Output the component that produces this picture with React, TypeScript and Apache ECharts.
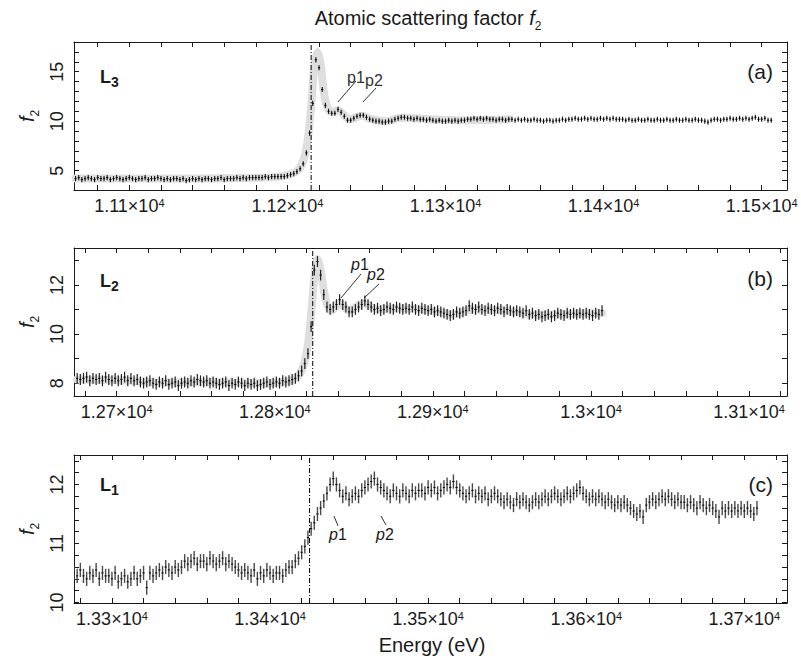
import { useEffect, useRef } from "react";
import * as echarts from "echarts";

const FONT = '"Liberation Sans", Arial, Helvetica, sans-serif';
const INK = "#1a1a1a";
const STEP_EV = 2;

// ---------- (a) L3 edge ----------
const L3_START = 11066;
const L3_VALUES = [
  4.2, 4.3, 4.1, 4.2, 4.3, 4.2, 4.1, 4.3, 4.2, 4.2,
  4.3, 4.1, 4.2, 4.3, 4.2, 4.1, 4.2, 4.3, 4.2, 4.1,
  4.2, 4.2, 4.3, 4.1, 4.2, 4.2, 4.3, 4.2, 4.1, 4.2,
  4.1, 4.2, 4.2, 4.1, 4.2, 4.0, 4.1, 4.2, 4.1, 4.2,
  4.1, 4.2, 4.2, 4.1, 4.2, 4.2, 4.3, 4.1, 4.2, 4.2,
  4.2, 4.3, 4.2, 4.3, 4.2, 4.3, 4.3, 4.3, 4.3, 4.3, 4.4, 4.3, 4.4, 4.4, 4.4,
  4.4, 4.4, 4.5, 4.6, 4.7, 4.9, 5.2, 5.7, 6.8, 8.8, 11.8, 16.2, 15.4, 13.2, 11.6,
  11.0, 10.8, 10.8, 11.2, 10.9, 10.5, 10.1, 10.1, 10.3, 10.5, 10.6, 10.6, 10.4, 10.2,
  10.1, 10.0, 10.0, 9.9, 9.9, 10.0, 10.0, 10.2, 10.3, 10.4,
  10.4, 10.3, 10.3, 10.2, 10.3, 10.2, 10.2, 10.1, 10.2,
  10.1, 10.0, 10.1, 10.0, 10.0, 10.1, 10.0, 10.1, 10.0, 10.1, 10.1,
  10.2, 10.2, 10.3, 10.2, 10.3, 10.2, 10.3, 10.2, 10.2, 10.1, 10.2,
  10.2, 10.1, 10.2, 10.2, 10.1, 10.2, 10.1, 10.2, 10.1, 10.1, 10.2,
  10.1, 10.1, 10.0, 10.1, 10.1, 10.0, 10.1, 10.1, 10.2, 10.1, 10.2,
  10.2, 10.3, 10.2, 10.2, 10.3, 10.2, 10.3, 10.2, 10.2, 10.3, 10.2,
  10.3, 10.2, 10.3, 10.2, 10.2, 10.2, 10.1, 10.2, 10.1, 10.1, 10.2,
  10.1, 10.1, 10.2, 10.1, 10.1, 10.2, 10.1, 10.1, 10.2, 10.1, 10.1,
  10.2, 10.1, 10.1, 10.2, 10.1, 10.1, 10.2, 10.1, 10.1, 10.0, 9.9,
  10.1, 10.2, 10.2, 10.1, 10.2, 10.2, 10.3, 10.2, 10.2, 10.3, 10.2,
  10.3, 10.2, 10.3, 10.4, 10.2, 10.2, 10.3, 10.1, 10.1,
];
const L3_ERROR = 0.26;
const L3_EDGE = 11215;
const L3_BAND_E = [11066, 11120, 11170, 11195, 11203, 11208, 11211, 11213, 11215, 11217, 11219, 11221, 11223, 11225, 11228, 11232, 11237, 11240, 11247, 11253, 11262, 11272, 11290, 11310, 11340];
const L3_BAND_V = [4.2, 4.2, 4.25, 4.4, 4.7, 5.3, 6.5, 8.3, 11.5, 15.5, 17.0, 15.8, 13.0, 11.5, 10.9, 11.1, 10.4, 10.2, 10.55, 10.2, 10.0, 10.35, 10.2, 10.1, 10.2];
const L3_X_LABELS = [11100, 11200, 11300, 11400, 11500];
const L3_Y_LABELS = [5, 10, 15];

// ---------- (b) L2 edge ----------
const L2_START = 12675;
const L2_VALUES = [
  8.2, 8.15, 8.2, 8.25, 8.1, 8.2, 8.15, 8.2, 8.1, 8.25, 8.15,
  8.1, 8.2, 8.1, 8.15, 8.25, 8.1, 8.2, 8.1, 8.15, 8.05,
  8.0, 8.05, 8.1, 8.0, 7.95, 8.05, 8.0, 8.1, 7.95, 8.0, 8.05, 7.9, 8.0, 8.05, 8.0,
  8.1, 8.05, 8.15, 8.1, 8.05, 8.1, 8.0, 8.05, 8.0,
  7.95, 8.0, 8.05, 7.9, 8.0, 7.95, 8.05, 8.0, 7.9, 8.0, 7.95, 8.0, 7.9, 7.95, 8.0, 8.05, 7.95,
  8.0, 8.05, 8.0, 8.1, 8.05, 8.1, 8.15, 8.2,
  8.3, 8.5, 8.8, 9.2, 10.3, 12.6, 12.95, 12.4, 11.6, 11.1,
  11.0, 11.1, 11.2, 11.4, 11.2, 11.1, 10.9, 10.9, 11.0, 11.1,
  11.2, 11.35, 11.2, 11.1, 11.0,
  11.05, 10.95, 11.0, 11.1, 11.05, 11.0, 11.1, 11.05, 11.0,
  11.05, 11.0, 11.1, 11.0, 10.95, 11.05, 11.0,
  10.95, 11.0, 10.9, 10.95, 10.9, 10.85, 10.8,
  10.75, 10.8, 10.9, 10.85, 10.9,
  10.95, 11.15, 11.05, 11.0,
  11.1, 11.0, 10.95, 11.05, 11.0, 10.95, 11.05, 11.0, 10.9, 11.0, 10.95, 10.9,
  10.95, 10.9, 10.85, 10.95, 10.8, 10.85,
  10.75, 10.8, 10.7, 10.75, 10.8, 10.7, 10.75, 10.85, 10.8, 10.75,
  10.85, 10.8, 10.85, 10.8, 10.85, 10.8, 10.85, 10.8, 10.75, 10.85, 10.8, 10.95,
];
const L2_ERROR = 0.22;
const L2_EDGE = 12824;
const L2_BAND_E = [12675, 12700, 12730, 12760, 12790, 12805, 12812, 12816, 12819, 12821, 12823, 12825, 12827, 12829, 12831, 12833, 12836, 12841, 12847, 12856, 12865, 12880, 12900, 12913, 12925, 12945, 12965, 12985, 13007];
const L2_BAND_V = [8.15, 8.12, 8.03, 8.05, 8.0, 8.05, 8.15, 8.4, 8.9, 9.6, 10.8, 12.3, 13.05, 12.6, 11.8, 11.2, 10.95, 11.25, 10.95, 11.25, 11.0, 11.05, 10.95, 10.8, 11.0, 10.97, 10.78, 10.82, 10.85];
const L2_X_LABELS = [12700, 12800, 12900, 13000, 13100];
const L2_Y_LABELS = [8, 10, 12];

// ---------- (c) L1 edge ----------
const L1_START = 13276;
const L1_VALUES = [
  10.5, 10.45, 10.55, 10.45, 10.4, 10.5, 10.45, 10.55, 10.4, 10.5, 10.45,
  10.45, 10.4, 10.5, 10.35, 10.4, 10.45, 10.35, 10.4, 10.5, 10.4, 10.45, 10.5,
  10.25,
  10.5, 10.45, 10.5, 10.55, 10.5, 10.6, 10.55, 10.5, 10.6, 10.55, 10.6,
  10.7, 10.65, 10.7, 10.75, 10.65, 10.7, 10.7, 10.65, 10.75, 10.7, 10.65, 10.7, 10.75, 10.65, 10.7, 10.65,
  10.6, 10.55, 10.5, 10.55, 10.5, 10.45, 10.55,
  10.4, 10.5, 10.45, 10.55, 10.5, 10.45, 10.5, 10.5, 10.45, 10.55,
  10.6, 10.6, 10.7, 10.75,
  10.85, 10.95, 11.1, 11.25, 11.35, 11.5, 11.6, 11.72, 11.85, 12.0, 12.1, 12.0, 11.9,
  11.8, 11.85, 11.75, 11.8, 11.85, 11.8,
  11.9,
  11.95, 12.0, 12.05, 12.1, 12.0, 11.95,
  11.9, 11.85, 11.8, 11.9, 11.85, 11.8, 11.9, 11.85, 11.8, 11.9, 11.85, 11.9,
  11.9, 11.85, 11.95, 11.9, 11.95, 11.85, 11.9, 11.95,
  12.0, 11.95, 12.05, 11.95, 11.9,
  11.85, 11.8, 11.85, 11.9, 11.8, 11.85, 11.8, 11.85, 11.75, 11.8, 11.85, 11.8, 11.75,
  11.7, 11.75, 11.7, 11.65, 11.75, 11.7, 11.75, 11.7, 11.65, 11.7, 11.75, 11.7,
  11.75, 11.8, 11.75, 11.8, 11.85, 11.8, 11.75, 11.8, 11.85, 11.8, 11.85, 11.9, 11.95,
  11.85, 11.8, 11.75, 11.8, 11.75, 11.8, 11.75, 11.7, 11.75, 11.7, 11.65, 11.7, 11.65, 11.7, 11.65, 11.6,
  11.55, 11.5, 11.55, 11.45,
  11.65, 11.7, 11.75, 11.7, 11.75, 11.8, 11.75, 11.8, 11.75, 11.7, 11.75, 11.7, 11.7,
  11.65, 11.7, 11.65, 11.6, 11.7, 11.65, 11.6, 11.65, 11.6, 11.55, 11.45,
  11.6, 11.55, 11.6, 11.55, 11.6, 11.55, 11.6, 11.55, 11.6, 11.55, 11.5, 11.6,
];
const L1_ERROR = 0.12;
const L1_EDGE = 13425;
const L1_X_LABELS = [13300, 13400, 13500, 13600, 13700];
const L1_Y_LABELS = [10, 11, 12];

type Panel = {
  start: number;
  values: number[];
  err: number;
  edge: number;
  bandE: number[];
  bandV: number[];
  xMin: number;
  xMax: number;
  yMin: number;
  yMax: number;
  xLabels: number[];
  yLabels: number[];
  yTickStep: number;
  top: number;
  barColor: string;
  barWidth: number;
};

const PANELS: Panel[] = [
  { start: L3_START, values: L3_VALUES, err: L3_ERROR, edge: L3_EDGE, bandE: L3_BAND_E, bandV: L3_BAND_V,
    xMin: 11065, xMax: 11516, yMin: 3.05, yMax: 18, xLabels: L3_X_LABELS, yLabels: L3_Y_LABELS, yTickStep: 1, top: 42, barColor: "#111", barWidth: 1.1 },
  { start: L2_START, values: L2_VALUES, err: L2_ERROR, edge: L2_EDGE, bandE: L2_BAND_E, bandV: L2_BAND_V,
    xMin: 12673, xMax: 13124, yMin: 7.48, yMax: 13.5, xLabels: L2_X_LABELS, yLabels: L2_Y_LABELS, yTickStep: 1, top: 248, barColor: "#222", barWidth: 1.2 },
  { start: L1_START, values: L1_VALUES, err: L1_ERROR, edge: L1_EDGE, bandE: [], bandV: [],
    xMin: 13276, xMax: 13727, yMin: 9.99, yMax: 12.5, xLabels: L1_X_LABELS, yLabels: L1_Y_LABELS, yTickStep: 0.2, top: 455, barColor: "#4a4a4a", barWidth: 1.4 },
];

const GRID_LEFT = 74;
const GRID_RIGHT = 14;
const GRID_HEIGHT = 148;

function range(a: number, b: number, s: number): number[] {
  const out: number[] = [];
  const start = Math.ceil(a / s - 1e-9) * s;
  for (let v = start; v <= b + 1e-9; v += s) out.push(Math.round(v * 1000) / 1000);
  return out;
}

function xFmt(v: number): string {
  const m = parseFloat((v / 1e4).toFixed(4)).toString();
  return `{m|${m}×10}{s|4}`;
}

function buildOption() {
  const grid: any[] = [];
  const xAxis: any[] = [];
  const yAxis: any[] = [];
  const series: any[] = [];
  const axisLine = { show: true, onZero: false, lineStyle: { color: INK, width: 1 } };
  const tickStyle = { color: INK, width: 1 };

  PANELS.forEach((p, g) => {
    grid.push({ left: GRID_LEFT, right: GRID_RIGHT, top: p.top, height: GRID_HEIGHT, outerBoundsMode: "none", containLabel: false });
    const xTicks = range(p.xMin, p.xMax, 20);
    const yTicks = range(p.yMin, p.yMax, p.yTickStep);
    xAxis.push({
      type: "value", gridIndex: g, position: "bottom", min: p.xMin, max: p.xMax,
      axisLine, splitLine: { show: false },
      axisTick: { show: true, inside: true, length: 5, customValues: xTicks, lineStyle: tickStyle },
      axisLabel: {
        show: true, customValues: p.xLabels, margin: 7, formatter: xFmt,
        rich: {
          m: { fontSize: 18, fontFamily: FONT, color: INK },
          s: { fontSize: 11, fontFamily: FONT, color: INK, verticalAlign: "top" },
        },
      },
    });
    xAxis.push({
      type: "value", gridIndex: g, position: "top", min: p.xMin, max: p.xMax,
      axisLine, splitLine: { show: false },
      axisTick: { show: true, inside: true, length: 5, customValues: xTicks, lineStyle: tickStyle },
      axisLabel: { show: false },
    });
    yAxis.push({
      type: "value", gridIndex: g, position: "left", min: p.yMin, max: p.yMax,
      axisLine, splitLine: { show: false },
      axisTick: { show: true, inside: true, length: 5, customValues: yTicks, lineStyle: tickStyle },
      axisLabel: {
        show: true, customValues: p.yLabels, rotate: 90, margin: 8,
        fontSize: 18, fontFamily: FONT, color: INK, formatter: (v: number) => String(v),
      },
    });
    yAxis.push({
      type: "value", gridIndex: g, position: "right", min: p.yMin, max: p.yMax,
      axisLine, splitLine: { show: false },
      axisTick: { show: true, inside: true, length: 5, customValues: yTicks, lineStyle: tickStyle },
      axisLabel: { show: false },
    });

    if (p.bandE.length) {
      series.push({
        type: "line", xAxisIndex: 2 * g, yAxisIndex: 2 * g, silent: true,
        data: p.bandE.map((e, i) => [e, p.bandV[i]]),
        symbol: "none", showSymbol: false, smooth: 0.3,
        lineStyle: { color: "#dedede", width: 8, cap: "round", join: "round" },
        z: 1,
      });
    }
    series.push({
      type: "line", xAxisIndex: 2 * g, yAxisIndex: 2 * g, silent: true,
      data: [[p.edge, p.yMin], [p.edge, p.yMax]],
      symbol: "none", showSymbol: false,
      lineStyle: { color: "#000", width: 1, type: [5, 2, 1, 2] },
      z: 2,
    });
    const barColor = p.barColor;
    const barWidth = p.barWidth;
    series.push({
      type: "custom", xAxisIndex: 2 * g, yAxisIndex: 2 * g, silent: true, clip: true,
      data: p.values.map((v, i) => [p.start + i * STEP_EV, v, p.err]),
      encode: { x: 0, y: 1 },
      renderItem: (_params: any, api: any) => {
        const x = api.value(0);
        const y = api.value(1);
        const e = api.value(2);
        const top = api.coord([x, y + e]);
        const bot = api.coord([x, y - e]);
        const mid = api.coord([x, y]);
        return {
          type: "group",
          children: [
            { type: "line", shape: { x1: top[0], y1: top[1], x2: bot[0], y2: bot[1] }, style: { stroke: barColor, lineWidth: barWidth } },
            { type: "line", shape: { x1: mid[0] - 1.1, y1: mid[1], x2: mid[0] + 1.1, y2: mid[1] }, style: { stroke: "#000", lineWidth: 1 } },
          ],
        };
      },
      z: 3,
    });
  });

  const text = (x: number, y: number, t: string, o: any = {}) => ({
    type: "text", x, y, silent: true, rotation: o.rotation || 0,
    style: {
      text: t, fill: o.fill || INK, fontSize: o.fontSize || 18, fontFamily: FONT,
      fontWeight: o.fontWeight || "normal", fontStyle: o.fontStyle || "normal",
      align: o.align || "left", textAlign: o.align || "left",
      verticalAlign: "middle", textVerticalAlign: "middle",
      lineHeight: o.lineHeight, rich: o.rich,
    },
  });
  const seg = (x1: number, y1: number, x2: number, y2: number) => ({
    type: "line", silent: true, shape: { x1, y1, x2, y2 }, style: { stroke: "#333", lineWidth: 1 },
  });

  const f2Rich = {
    i: { fontStyle: "italic", fontSize: 20, fontFamily: FONT, color: INK, lineHeight: 28 },
    s: { fontSize: 12, fontFamily: FONT, color: INK, verticalAlign: "bottom", lineHeight: 12 },
  };
  const lRich = (fs: number) => ({
    b: { fontWeight: "bold", fontSize: 18, fontFamily: FONT, color: INK, lineHeight: 24 },
    s: { fontWeight: "bold", fontSize: fs, fontFamily: FONT, color: INK, verticalAlign: "bottom", lineHeight: 13 },
  });

  const graphic: any[] = [
    text(428, 18, "Atomic scattering factor {i|f}{s|2}", { fontSize: 20, align: "center", lineHeight: 28, rich: f2Rich }),
    text(432, 645, "Energy (eV)", { fontSize: 20, align: "center" }),
  ];
  const mids = [116, 322, 529];
  mids.forEach((m) => graphic.push(text(27, m, "{i|f}{s|2}", { rotation: Math.PI / 2, align: "center", lineHeight: 28, rich: f2Rich })));

  graphic.push(text(100, 77, "{b|L}{s|3}", { lineHeight: 24, rich: lRich(14) }));
  graphic.push(text(100, 281, "{b|L}{s|2}", { lineHeight: 24, rich: lRich(14) }));
  graphic.push(text(100, 485, "{b|L}{s|1}", { lineHeight: 24, rich: lRich(14) }));

  graphic.push(text(773, 71, "(a)", { fontSize: 21, align: "right" }));
  graphic.push(text(773, 278, "(b)", { fontSize: 21, align: "right" }));
  graphic.push(text(773, 484, "(c)", { fontSize: 21, align: "right" }));

  // peak annotations
  graphic.push(text(347, 77, "p1", { fontSize: 16, fill: "#333" }));
  graphic.push(text(365, 80, "p2", { fontSize: 16, fill: "#333" }));
  graphic.push(seg(356, 81, 338, 102));
  graphic.push(seg(376, 88, 363, 102));

  const pRich = {
    p: { fontStyle: "italic", fontSize: 16, fontFamily: FONT, color: "#333" },
    n: { fontSize: 16, fontFamily: FONT, color: "#333" },
  };
  graphic.push(text(351, 264, "{p|p}{n|1}", { rich: pRich }));
  graphic.push(text(367, 274, "{p|p}{n|2}", { rich: pRich }));
  graphic.push(seg(361, 274, 341, 298));
  graphic.push(seg(379, 284, 364, 298));

  graphic.push(text(329, 534, "{p|p}{n|1}", { rich: pRich }));
  graphic.push(text(376, 534, "{p|p}{n|2}", { rich: pRich }));
  graphic.push(seg(334, 516, 338, 526));
  graphic.push(seg(381, 516, 386, 525));

  return {
    animation: false,
    backgroundColor: "#fff",
    textStyle: { fontFamily: FONT },
    grid, xAxis, yAxis, series, graphic,
  };
}

export default function App() {
  const ref = useRef<HTMLDivElement>(null);
  useEffect(() => {
    const el = ref.current;
    if (!el) return;
    const chart = echarts.init(el, null, { renderer: "svg" });
    chart.setOption(buildOption() as any);
    return () => chart.dispose();
  }, []);
  return <div ref={ref} style={{ position: "fixed", left: 0, top: 0, width: 801, height: 662 }} />;
}
